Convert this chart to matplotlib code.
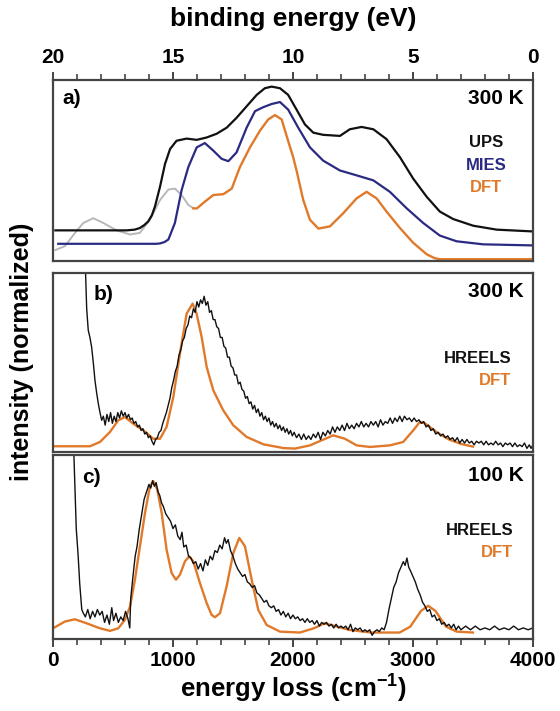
import matplotlib
matplotlib.use('Agg')
import matplotlib.pyplot as plt

plt.rcParams['font.family'] = ['Liberation Sans', 'DejaVu Sans']
plt.rcParams['font.weight'] = 'bold'
plt.rcParams['mathtext.fontset'] = 'custom'
plt.rcParams['mathtext.rm'] = 'Liberation Sans:bold'
plt.rcParams['mathtext.bf'] = 'Liberation Sans:bold'
plt.rcParams['mathtext.default'] = 'bf'

# =============================================================================
# a) photoemission, binding energy (eV) vs normalized intensity
# =============================================================================
ups_e = [19.9, 16.93, 16.6, 16.38, 16.2, 16.03, 15.88, 15.75, 15.54, 15.33,
         15.12, 14.85, 14.43, 14.01, 13.6, 13.18, 12.76, 12.35, 11.93, 11.51,
         11.17, 10.89, 10.54, 10.2, 9.85, 9.5, 9.15, 8.74, 8.04, 7.63, 7.14,
         6.65, 6.1, 5.54, 4.99, 4.43, 3.88, 3.32, 2.49, 1.51, 0.0]
ups_i = [0.161, 0.161, 0.165, 0.174, 0.19, 0.211, 0.245, 0.294, 0.404, 0.532,
         0.615, 0.661, 0.673, 0.666, 0.679, 0.70, 0.734, 0.789, 0.853, 0.917,
         0.954, 0.963, 0.954, 0.917, 0.835, 0.752, 0.706, 0.694, 0.688,
         0.725, 0.738, 0.725, 0.67, 0.569, 0.45, 0.349, 0.266, 0.224, 0.187,
         0.165, 0.155]

mies_e = [19.78, 15.7, 15.54, 15.35, 15.19, 14.92, 14.64, 14.36, 14.01,
          13.67, 13.32, 12.97, 12.69, 12.35, 11.93, 11.58, 11.24, 10.89,
          10.54, 10.2, 9.78, 9.29, 8.74, 8.04, 7.35, 6.65, 5.96, 5.26, 4.57,
          3.88, 3.18, 2.07, 0.0]
mies_i = [0.086, 0.086, 0.088, 0.096, 0.11, 0.202, 0.385, 0.514, 0.624,
          0.648, 0.606, 0.56, 0.547, 0.596, 0.734, 0.826, 0.848, 0.866,
          0.877, 0.835, 0.734, 0.624, 0.55, 0.495, 0.468, 0.44, 0.376, 0.284,
          0.202, 0.132, 0.10, 0.083, 0.077]

dft_gray_e = [19.9, 19.5, 19.08, 18.74, 18.32, 17.9, 17.35, 16.79, 16.38,
              15.96, 15.54, 15.19, 14.92, 14.64, 14.36, 14.15]
dft_gray_i = [0.051, 0.073, 0.147, 0.202, 0.229, 0.202, 0.161, 0.138, 0.147,
              0.22, 0.33, 0.389, 0.394, 0.358, 0.303, 0.284]

dft_a_e = [14.15, 14.01, 13.67, 13.32, 12.9, 12.55, 12.21, 11.79, 11.38,
           11.03, 10.75, 10.47, 10.2, 9.99, 9.85, 9.57, 9.29, 8.94, 8.46,
           7.9, 7.35, 6.93, 6.51, 6.1, 5.54, 4.99, 4.43, 4.1, 3.88, 0.0]
dft_a_i = [0.284, 0.283, 0.321, 0.358, 0.363, 0.394, 0.514, 0.624, 0.716,
           0.78, 0.804, 0.78, 0.66, 0.569, 0.495, 0.33, 0.22, 0.171, 0.183,
           0.257, 0.339, 0.376, 0.339, 0.266, 0.174, 0.092, 0.028, 0.006,
           0.0, 0.0]

# =============================================================================
# b) HREELS 300 K, energy loss (cm-1)
# =============================================================================
hreels_b_x = [250, 267, 281, 294, 308, 322, 336, 350, 364, 378, 392, 406,
              420, 435, 450, 465, 480, 495, 510, 525, 540, 555, 570, 585,
              600, 615, 630, 645, 660, 675, 690, 705, 720, 735, 750, 765,
              780, 795, 810, 825, 840, 855, 870, 885, 900, 915, 930, 945,
              960, 975, 990, 1005, 1020, 1035, 1050, 1065, 1080, 1095, 1110,
              1125, 1140, 1155, 1170, 1185, 1200, 1215, 1230, 1245, 1260,
              1275, 1290, 1305, 1320, 1335, 1350, 1365, 1380, 1395, 1410,
              1425, 1440, 1455, 1470, 1485, 1500, 1515, 1530, 1545, 1560,
              1575, 1590, 1605, 1620, 1635, 1650, 1665, 1680, 1695, 1710,
              1725, 1740, 1755, 1770, 1785, 1800, 1815, 1830, 1845, 1860,
              1875, 1890, 1905, 1920, 1935, 1950, 1965, 1980, 1995, 2010,
              2030, 2050, 2070, 2090, 2110, 2130, 2150, 2170, 2190, 2210,
              2230, 2250, 2270, 2290, 2310, 2330, 2350, 2370, 2390, 2410,
              2430, 2450, 2470, 2490, 2510, 2530, 2550, 2570, 2590, 2610,
              2630, 2650, 2670, 2690, 2710, 2730, 2750, 2770, 2790, 2810,
              2830, 2850, 2870, 2890, 2910, 2930, 2950, 2970, 2990, 3010,
              3030, 3050, 3070, 3090, 3110, 3130, 3150, 3170, 3190, 3210,
              3230, 3250, 3270, 3290, 3310, 3330, 3350, 3370, 3390, 3410,
              3430, 3450, 3470, 3490, 3510, 3530, 3550, 3570, 3590, 3610,
              3630, 3650, 3670, 3690, 3710, 3730, 3750, 3770, 3790, 3810,
              3830, 3850, 3870, 3890, 3910, 3930, 3950, 3970, 3985, 4000]
hreels_b_i = [1.40, 1.10, 0.80, 0.68, 0.64, 0.587, 0.50, 0.40, 0.33, 0.27,
              0.22, 0.177, 0.20, 0.15, 0.21, 0.17, 0.22, 0.16, 0.20, 0.17,
              0.22, 0.19, 0.23, 0.20, 0.22, 0.19, 0.21, 0.18, 0.19, 0.16,
              0.17, 0.14, 0.15, 0.12, 0.13, 0.10, 0.11, 0.08, 0.09, 0.06,
              0.04, 0.07, 0.08, 0.11, 0.12, 0.16, 0.19, 0.22, 0.26, 0.30,
              0.36, 0.40, 0.45, 0.48, 0.54, 0.57, 0.62, 0.64, 0.69, 0.71,
              0.76, 0.75, 0.80, 0.78, 0.84, 0.81, 0.85, 0.83, 0.87, 0.82,
              0.84, 0.78, 0.79, 0.74, 0.74, 0.70, 0.69, 0.64, 0.64, 0.59,
              0.58, 0.53, 0.53, 0.48, 0.47, 0.43, 0.43, 0.38, 0.39, 0.35,
              0.34, 0.30, 0.31, 0.27, 0.28, 0.24, 0.26, 0.22, 0.24, 0.20,
              0.22, 0.18, 0.20, 0.17, 0.19, 0.15, 0.17, 0.14, 0.16, 0.13,
              0.15, 0.12, 0.14, 0.11, 0.13, 0.10, 0.12, 0.09, 0.11, 0.08,
              0.10, 0.07, 0.10, 0.07, 0.09, 0.07, 0.10, 0.08, 0.11, 0.07,
              0.11, 0.09, 0.12, 0.10, 0.14, 0.11, 0.14, 0.12, 0.15, 0.12,
              0.16, 0.13, 0.15, 0.13, 0.16, 0.14, 0.17, 0.14, 0.16, 0.14,
              0.17, 0.15, 0.17, 0.14, 0.18, 0.15, 0.17, 0.16, 0.19, 0.16,
              0.19, 0.17, 0.20, 0.17, 0.20, 0.18, 0.19, 0.17, 0.19, 0.17,
              0.18, 0.16, 0.17, 0.14, 0.15, 0.12, 0.13, 0.10, 0.11, 0.09,
              0.10, 0.08, 0.09, 0.07, 0.08, 0.06, 0.08, 0.05, 0.07, 0.05,
              0.07, 0.05, 0.06, 0.04, 0.06, 0.05, 0.06, 0.04, 0.06, 0.04,
              0.05, 0.04, 0.06, 0.04, 0.05, 0.03, 0.05, 0.04, 0.05, 0.03,
              0.05, 0.03, 0.04, 0.03, 0.05, 0.02, 0.04, 0.02, 0.04]

dft_b_x = [0, 308, 392, 475, 544, 600, 669, 753, 836, 892, 947, 1003, 1058,
           1114, 1164, 1197, 1239, 1281, 1336, 1419, 1503, 1614, 1753, 1919,
           2017, 2142, 2336, 2433, 2531, 2642, 2808, 2919, 3003, 3058, 3100,
           3200, 3300, 3400, 3500]
dft_b_i = [0.032, 0.032, 0.056, 0.112, 0.177, 0.195, 0.158, 0.121, 0.074,
           0.074, 0.14, 0.307, 0.55, 0.773, 0.829, 0.773, 0.643, 0.475,
           0.345, 0.233, 0.149, 0.084, 0.043, 0.022, 0.019, 0.037, 0.093,
           0.074, 0.037, 0.028, 0.037, 0.056, 0.121, 0.168, 0.16, 0.11,
           0.07, 0.045, 0.03]

# =============================================================================
# c) HREELS 100 K, energy loss (cm-1)
# =============================================================================
hreels_c_x = [150, 194, 210, 223, 240, 253, 270, 290, 310, 330, 350, 370,
              390, 410, 430, 450, 470, 490, 505, 525, 545, 565, 585, 605,
              625, 640, 648, 665, 685, 700, 720, 740, 760, 780, 800, 815,
              830, 845, 860, 875, 890, 905, 920, 940, 960, 980, 1000, 1020,
              1040, 1060, 1075, 1090, 1110, 1130, 1150, 1170, 1190, 1210,
              1230, 1250, 1270, 1290, 1310, 1330, 1350, 1370, 1390, 1410,
              1430, 1445, 1460, 1480, 1500, 1520, 1540, 1560, 1580, 1600,
              1620, 1640, 1660, 1680, 1700, 1720, 1740, 1760, 1780, 1800,
              1820, 1840, 1860, 1880, 1900, 1920, 1940, 1960, 1980, 2000,
              2020, 2040, 2060, 2080, 2100, 2120, 2140, 2160, 2180, 2200,
              2220, 2240, 2260, 2280, 2300, 2320, 2340, 2360, 2380, 2400,
              2420, 2440, 2460, 2480, 2500, 2520, 2540, 2560, 2580, 2600,
              2620, 2640, 2660, 2680, 2700, 2720, 2740, 2760, 2780, 2800,
              2820, 2840, 2860, 2880, 2900, 2920, 2935, 2950, 2965, 2980,
              3000, 3020, 3040, 3060, 3080, 3100, 3120, 3140, 3160, 3180,
              3200, 3220, 3240, 3260, 3280, 3300, 3320, 3340, 3360, 3380,
              3400, 3440, 3480, 3520, 3560, 3600, 3640, 3680, 3720, 3760,
              3800, 3840, 3880, 3920, 3960, 4000]
hreels_c_i = [1.50, 0.60, 0.45, 0.30, 0.16, 0.14, 0.12, 0.16, 0.11, 0.15,
              0.12, 0.16, 0.13, 0.15, 0.09, 0.13, 0.08, 0.17, 0.10, 0.14,
              0.09, 0.12, 0.10, 0.15, 0.11, 0.06, 0.22, 0.33, 0.45, 0.50,
              0.60, 0.68, 0.76, 0.80, 0.84, 0.82, 0.86, 0.83, 0.85, 0.80,
              0.78, 0.74, 0.72, 0.68, 0.66, 0.64, 0.60, 0.62, 0.56, 0.54,
              0.58, 0.50, 0.51, 0.45, 0.44, 0.41, 0.42, 0.38, 0.41, 0.37,
              0.43, 0.40, 0.45, 0.43, 0.48, 0.47, 0.51, 0.49, 0.55, 0.52,
              0.54, 0.48, 0.45, 0.41, 0.38, 0.36, 0.34, 0.35, 0.31, 0.30,
              0.28, 0.29, 0.25, 0.24, 0.22, 0.20, 0.21, 0.18, 0.17, 0.18,
              0.15, 0.16, 0.13, 0.15, 0.12, 0.14, 0.11, 0.13, 0.11, 0.12,
              0.10, 0.11, 0.09, 0.11, 0.09, 0.10, 0.08, 0.10, 0.07, 0.09,
              0.08, 0.09, 0.07, 0.08, 0.06, 0.08, 0.06, 0.07, 0.06, 0.07,
              0.05, 0.08, 0.04, 0.06, 0.05, 0.06, 0.04, 0.05, 0.04, 0.05,
              0.02, 0.04, 0.05, 0.04, 0.06, 0.05, 0.09, 0.16, 0.22, 0.28,
              0.31, 0.36, 0.39, 0.42, 0.40, 0.44, 0.39, 0.37, 0.34, 0.31,
              0.27, 0.24, 0.20, 0.18, 0.15, 0.16, 0.12, 0.13, 0.10, 0.11,
              0.08, 0.09, 0.07, 0.08, 0.06, 0.08, 0.05, 0.07, 0.05, 0.07,
              0.05, 0.07, 0.05, 0.06, 0.05, 0.07, 0.05, 0.06, 0.05, 0.07,
              0.05, 0.06, 0.05, 0.06]

dft_c_x = [0, 100, 183, 281, 392, 475, 544, 600, 642, 683, 725, 767, 808,
           836, 869, 906, 947, 989, 1025, 1058, 1100, 1136, 1169, 1225, 1281,
           1322, 1350, 1392, 1447, 1503, 1553, 1600, 1656, 1711, 1781, 1892,
           2058, 2174, 2263, 2353, 2472, 2650, 2889, 2978, 3068, 3127, 3187,
           3276, 3365, 3500]
dft_c_i = [0.058, 0.095, 0.107, 0.085, 0.058, 0.044, 0.058, 0.104, 0.176,
           0.322, 0.504, 0.685, 0.83, 0.858, 0.813, 0.685, 0.485, 0.358,
           0.322, 0.349, 0.422, 0.449, 0.422, 0.304, 0.195, 0.131, 0.118,
           0.14, 0.285, 0.467, 0.549, 0.504, 0.322, 0.158, 0.076, 0.04, 0.035,
           0.058, 0.085, 0.07, 0.049, 0.035, 0.035, 0.067, 0.153, 0.18, 0.153,
           0.067, 0.04, 0.035]

BLACK = '#111111'
NAVY = '#2b2a82'
ORANGE = '#e07a2a'
GRAY = '#b8b8b8'
SPINE = '#444444'

fig = plt.figure(figsize=(5.6, 7.11), dpi=100)
ax_a = fig.add_axes([0.0946, 0.6329, 0.857, 0.2546])
ax_b = fig.add_axes([0.0946, 0.3643, 0.857, 0.2517])
ax_c = fig.add_axes([0.0946, 0.1013, 0.857, 0.2588])

for ax in (ax_a, ax_b, ax_c):
    for sp in ax.spines.values():
        sp.set_color(SPINE)
        sp.set_linewidth(1.6)
    ax.set_yticks([])

# ----- panel a -----
ax_a.plot(dft_gray_e, dft_gray_i, color=GRAY, lw=1.4)
ax_a.plot(ups_e, ups_i, color=BLACK, lw=1.6)
ax_a.plot(mies_e, mies_i, color=NAVY, lw=1.6)
ax_a.plot(dft_a_e, dft_a_i, color=ORANGE, lw=1.7)
ax_a.set_xlim(20, 0)
ax_a.set_ylim(-0.01, 1.0)
ax_a.xaxis.tick_top()
ax_a.xaxis.set_label_position('top')
ax_a.set_xticks([20, 15, 10, 5, 0])
ax_a.set_xticks(list(range(0, 21)), minor=True)
ax_a.tick_params(axis='x', which='major', direction='out', length=6,
                 width=1.4, color=SPINE, labelsize=15, pad=3)
ax_a.tick_params(axis='x', which='minor', direction='out', length=4,
                 width=1.2, color=SPINE)
ax_a.set_xlabel('binding energy (eV)', fontsize=19, fontweight='bold',
                labelpad=16)
ax_a.text(0.02, 0.90, 'a)', transform=ax_a.transAxes, fontsize=15,
          fontweight='bold', va='center', ha='left')
ax_a.text(0.98, 0.90, '300 K', transform=ax_a.transAxes, fontsize=15,
          fontweight='bold', va='center', ha='right')
ax_a.text(0.903, 0.652, 'UPS', transform=ax_a.transAxes, fontsize=12,
          fontweight='bold', color=BLACK, va='center', ha='center')
ax_a.text(0.903, 0.529, 'MIES', transform=ax_a.transAxes, fontsize=12,
          fontweight='bold', color=NAVY, va='center', ha='center')
ax_a.text(0.903, 0.407, 'DFT', transform=ax_a.transAxes, fontsize=12,
          fontweight='bold', color=ORANGE, va='center', ha='center')

# ----- panel b -----
ax_b.plot(dft_b_x, dft_b_i, color=ORANGE, lw=1.7)
ax_b.plot(hreels_b_x, hreels_b_i, color=BLACK, lw=1.0)
ax_b.set_xlim(0, 4000)
ax_b.set_ylim(0, 1.0)
ax_b.set_xticks([])
ax_b.text(0.085, 0.88, 'b)', transform=ax_b.transAxes, fontsize=15,
          fontweight='bold', va='center', ha='left')
ax_b.text(0.98, 0.895, '300 K', transform=ax_b.transAxes, fontsize=15,
          fontweight='bold', va='center', ha='right')
ax_b.text(0.955, 0.525, 'HREELS', transform=ax_b.transAxes, fontsize=12,
          fontweight='bold', color=BLACK, va='center', ha='right')
ax_b.text(0.955, 0.402, 'DFT', transform=ax_b.transAxes, fontsize=12,
          fontweight='bold', color=ORANGE, va='center', ha='right')

# ----- panel c -----
ax_c.plot(dft_c_x, dft_c_i, color=ORANGE, lw=1.7)
ax_c.plot(hreels_c_x, hreels_c_i, color=BLACK, lw=1.0)
ax_c.set_xlim(0, 4000)
ax_c.set_ylim(0, 1.0)
ax_c.set_xticks([0, 1000, 2000, 3000, 4000])
ax_c.set_xticks(list(range(0, 4001, 200)), minor=True)
ax_c.tick_params(axis='x', which='major', direction='out', length=6,
                 width=1.4, color=SPINE, labelsize=15, pad=3)
ax_c.tick_params(axis='x', which='minor', direction='out', length=4,
                 width=1.2, color=SPINE)
ax_c.set_xlabel('energy loss (cm$^{-1}$)', fontsize=18.5, fontweight='bold',
                labelpad=2)
ax_c.text(0.06, 0.875, 'c)', transform=ax_c.transAxes, fontsize=15,
          fontweight='bold', va='center', ha='left')
ax_c.text(0.98, 0.89, '100 K', transform=ax_c.transAxes, fontsize=15,
          fontweight='bold', va='center', ha='right')
ax_c.text(0.959, 0.592, 'HREELS', transform=ax_c.transAxes, fontsize=12,
          fontweight='bold', color=BLACK, va='center', ha='right')
ax_c.text(0.959, 0.471, 'DFT', transform=ax_c.transAxes, fontsize=12,
          fontweight='bold', color=ORANGE, va='center', ha='right')

fig.text(0.04, 0.505, 'intensity (normalized)', rotation=90, fontsize=18,
         fontweight='bold', va='center', ha='center')

for ax in (ax_a, ax_b, ax_c):
    for lab in ax.get_xticklabels():
        lab.set_fontweight('bold')

fig.savefig('out.png', dpi=100)
